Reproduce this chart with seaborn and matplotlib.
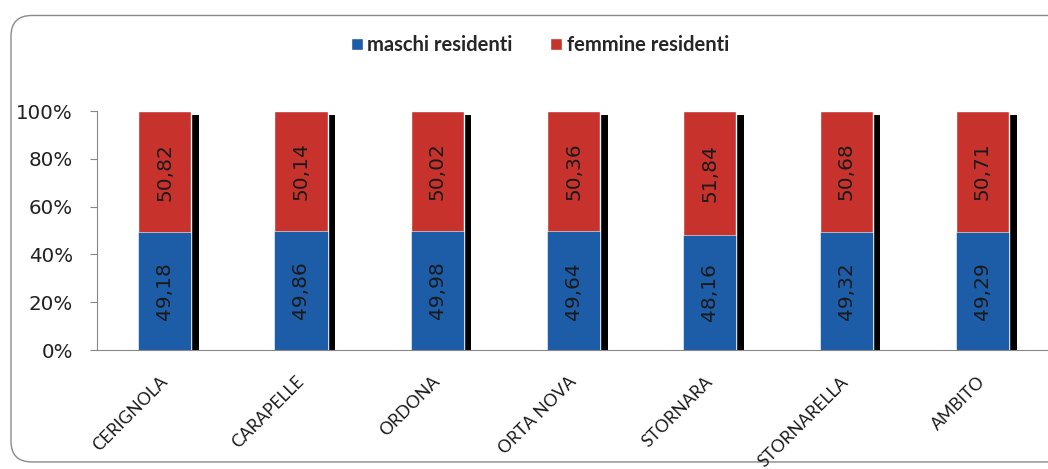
import pandas as pd
import numpy as np
import matplotlib.pyplot as plt
import matplotlib.patheffects as pe
from matplotlib.patches import FancyBboxPatch, Patch
import seaborn as sns

comuni = ["CERIGNOLA", "CARAPELLE", "ORDONA", "ORTA NOVA", "STORNARA", "STORNARELLA", "AMBITO"]
maschi = [49.18, 49.86, 49.98, 49.64, 48.16, 49.32, 49.29]
femmine = [50.82, 50.14, 50.02, 50.36, 51.84, 50.68, 50.71]

blu = "#1d5ca6"
rosso = "#c8322d"

sns.set_style("white")
plt.rcParams['font.family'] = ['Lato', 'DejaVu Sans']

data = pd.DataFrame({'comune': comuni, 'maschi': maschi, 'femmine': femmine})
data['totale'] = data['maschi'] + data['femmine']

fig = plt.figure(figsize=(10.48, 4.69), dpi=100)
fig.patch.set_facecolor("white")
box = FancyBboxPatch((0.0105, 0.015), 1.05, 0.952, boxstyle="round,pad=0,rounding_size=0.02",
                     transform=fig.transFigure, facecolor="none", edgecolor="#8a8a8a",
                     linewidth=1.0, mutation_aspect=2.2, zorder=-1)
fig.patches.append(box)

ax = fig.add_axes([0.0921, 0.2537, 0.9103, 0.5096])
ax.set_facecolor("none")

sns.barplot(data=data, x='comune', y='totale', color=rosso, width=0.39,
            saturation=1, ax=ax, errorbar=None)
for p in ax.patches:
    p.set_path_effects([pe.SimplePatchShadow(offset=(5.5, -2.8), shadow_rgbFace='black', alpha=1.0),
                        pe.Normal()])
n_red = len(ax.patches)
sns.barplot(data=data, x='comune', y='maschi', color=blu, width=0.39,
            saturation=1, ax=ax, errorbar=None)
for p in ax.patches[n_red:]:
    p.set_edgecolor("white")
    p.set_linewidth(0.4)

for i, (m, f) in enumerate(zip(maschi, femmine)):
    ax.text(i, m / 2, f"{m:.2f}".replace(".", ","), rotation=90, ha='center', va='center',
            fontsize=14.5, color="#1a1a1a", family='DejaVu Sans')
    ax.text(i, m + f / 2, f"{f:.2f}".replace(".", ","), rotation=90, ha='center', va='center',
            fontsize=14.5, color="#1a1a1a", family='DejaVu Sans')

ax.set_ylim(0, 100)
ax.set_xlim(-0.5, 6.5)
ax.set_yticks(np.arange(0, 101, 20))
ax.set_yticklabels([f"{v}%" for v in range(0, 101, 20)], fontsize=14.3, color="#222222",
                   family='DejaVu Sans')
ax.set_xticks(range(len(comuni)))
ax.set_xticklabels(comuni, rotation=45, ha='right', va='center', rotation_mode='anchor',
                   fontsize=12.5, color="#1a1a1a")
ax.tick_params(axis='y', which='both', left=True, length=5, color="#888888", pad=12)
ax.tick_params(axis='x', length=0, pad=21)
ax.set_xlabel("")
ax.set_ylabel("")
for s in ['top', 'right']:
    ax.spines[s].set_visible(False)
ax.spines['left'].set_color("#888888")
ax.spines['bottom'].set_color("#888888")

handles = [Patch(facecolor=blu, label="maschi residenti"),
           Patch(facecolor=rosso, label="femmine residenti")]
fig.legend(handles=handles, loc='center', bbox_to_anchor=(0.515, 0.904), ncol=2, frameon=False,
           prop={'weight': 'bold', 'size': 14.5}, handlelength=0.6, handleheight=0.6,
           handletextpad=0.2, columnspacing=1.9)

fig.savefig("out.png", dpi=100)
